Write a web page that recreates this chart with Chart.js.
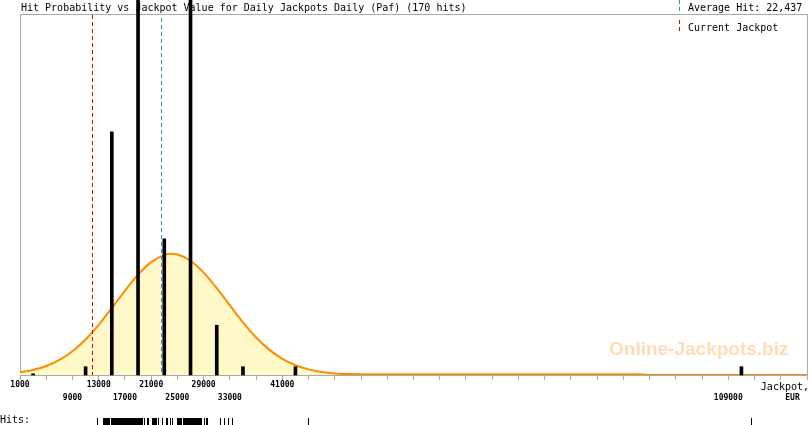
<!DOCTYPE html>
<html><head><meta charset="utf-8">
<script src="https://cdn.jsdelivr.net/npm/chart.js@4.4.0/dist/chart.umd.min.js"></script>
<style>html,body{margin:0;padding:0;background:#fff}canvas{display:block}</style>
</head><body>
<canvas id="c" width="810" height="425"></canvas>
<script>
const titleText = 'Hit Probability vs Jackpot Value for Daily Jackpots Daily (Paf) (170 hits)';
// histogram bins (EUR, bin centre) and heights (hits)
const binCenters = [3000, 11000, 15000, 19000, 23000, 27000, 31000, 35000, 43000, 111000];
const binHits    = [0.15, 1, 29.3, 57, 16.4, 57, 6, 1, 1, 1];
// fitted distribution curve (same units as bins)
const curveX = [1000,3000,5000,7000,9000,11000,13000,15000,17000,19000,21000,23000,24000,25000,27000,29000,31000,33000,35000,37000,39000,41000,43000,45000,47000,49000,51000,53000,57000,65000,75000,85000,95000,97000,109000,121000];
const curveY = [0.33,0.61,1.08,1.82,2.87,4.28,6.04,8.07,10.15,12.09,13.6,14.45,14.6,14.51,13.77,12.34,10.46,8.38,6.34,4.52,3.06,1.95,1.18,0.68,0.36,0.19,0.12,0.1,0.1,0.1,0.1,0.1,0.1,0,0,0];
// individual hit values (EUR) for the strip at the bottom
const hitValues = [12770,13690,13840,13990,14140,14300,14450,14600,14910,15060,15210,15370,15520,15670,15830,15980,16130,16290,16440,16590,16740,16900,17050,17200,17350,17510,17660,17810,17970,18120,18270,18430,18580,18730,18880,19040,19190,19340,19500,19650,19950,20360,20560,21180,21330,21480,21630,21790,22090,22700,23320,23470,23930,24230,24990,25150,25300,25460,25610,25910,26070,26220,26370,26530,26680,26830,26990,27140,27290,27440,27600,27750,27900,28060,28210,28360,28510,28670,29120,29430,29580,31570,32180,32790,33250,44870,112430];
const averageHit = 22437;
const currentJackpot = 12050;
const tickRow1 = [1000, 13000, 21000, 29000, 41000];
const tickRow2 = [9000, 17000, 25000, 33000, 109000];
const xMin = 1000, xMax = 121000, xStep = 4000;
const yMax = 43.5;

const RED = '#dd0000', BLUE = '#3a8cc0', GRAY = '#aaaaaa';
const MONO = '"DejaVu Sans Mono", "Liberation Mono", monospace';

function vline(ctx, x, y0, y1) { ctx.beginPath(); ctx.moveTo(x, y0); ctx.lineTo(x, y1); ctx.stroke(); }

const deco = {
  id: 'deco',
  beforeDraw(chart) {
    const ctx = chart.ctx, a = chart.chartArea;
    ctx.save();
    ctx.fillStyle = '#fff'; ctx.fillRect(0, 0, chart.width, chart.height);
    ctx.fillStyle = '#000'; ctx.font = '10px ' + MONO; ctx.textAlign = 'left'; ctx.textBaseline = 'alphabetic';
    ctx.fillText(titleText, 21, 10.5);
    ctx.fillText('Average Hit: ' + averageHit.toLocaleString('en-US'), 688, 10.5);
    ctx.fillText('Current Jackpot', 688, 30.5);
    ctx.lineWidth = 1; ctx.setLineDash([4, 3]);
    ctx.strokeStyle = BLUE; vline(ctx, 679.5, 0, 11);
    ctx.strokeStyle = RED; vline(ctx, 679.5, 20, 34);
    ctx.setLineDash([]);
    ctx.strokeStyle = GRAY;
    ctx.beginPath();
    ctx.moveTo(a.left + 0.5, a.bottom); ctx.lineTo(a.left + 0.5, a.top + 0.5);
    ctx.lineTo(a.right + 0.5, a.top + 0.5); ctx.lineTo(a.right + 0.5, a.bottom);
    ctx.stroke();
    ctx.font = 'bold 19px "Liberation Sans", Arial, sans-serif';
    ctx.fillStyle = '#ffdcb4';
    ctx.fillText('Online-Jackpots.biz', 609, 355);
    ctx.restore();
  },
  afterDatasetsDraw(chart) {
    const ctx = chart.ctx, a = chart.chartArea, xs = chart.scales.x;
    ctx.save();
    ctx.lineWidth = 1; ctx.setLineDash([4, 3]);
    ctx.strokeStyle = RED; vline(ctx, Math.round(xs.getPixelForValue(currentJackpot)) + 0.5, a.top + 1, a.bottom);
    ctx.strokeStyle = BLUE; vline(ctx, Math.round(xs.getPixelForValue(averageHit)) + 0.5, a.top + 4, a.bottom);
    ctx.restore();
  },
  afterDraw(chart) {
    const ctx = chart.ctx, xs = chart.scales.x;
    ctx.save();
    ctx.fillStyle = '#000'; ctx.font = '10px ' + MONO; ctx.textBaseline = 'alphabetic';
    ctx.textAlign = 'right'; ctx.fillText('Jackpot,', 809, 389.5);
    ctx.textAlign = 'left'; ctx.fillText('Hits:', 0, 423);
    ctx.font = 'bold 8px ' + MONO; ctx.textAlign = 'center'; ctx.textBaseline = 'middle';
    ctx.fillText('EUR', 792.5, 397.5);
    hitValues.forEach(v => { ctx.fillRect(Math.round(xs.getPixelForValue(v)), 418, 1, 7); });
    ctx.restore();
  }
};

new Chart(document.getElementById('c'), {
  type: 'bar',
  data: {
    datasets: [
      {
        type: 'bar',
        data: binCenters.map((x, i) => ({ x, y: binHits[i] })),
        backgroundColor: '#000',
        barThickness: 3,
        order: 1,
        clip: false
      },
      {
        type: 'line',
        data: curveX.map((x, i) => ({ x, y: curveY[i] })),
        borderColor: '#ff8c00',
        borderWidth: 2,
        backgroundColor: 'rgb(255,248,200)',
        fill: 'origin',
        pointRadius: 0,
        cubicInterpolationMode: 'monotone',
        order: 2
      }
    ]
  },
  options: {
    responsive: false,
    animation: false,
    devicePixelRatio: 1,
    events: [],
    layout: { padding: { left: 20, right: 3, top: 14, bottom: 0 } },
    plugins: { legend: { display: false }, tooltip: { enabled: false }, title: { display: false } },
    scales: {
      x: {
        type: 'linear', min: xMin, max: xMax, offset: false,
        afterFit: s => { s.height = 50; },
        ticks: {
          stepSize: xStep, autoSkip: false, maxRotation: 0, minRotation: 0, maxTicksLimit: 100,
          padding: -1, color: '#000',
          font: { family: MONO, size: 8, weight: 'bold', lineHeight: 1.55 },
          callback: v => tickRow1.includes(v) ? String(v) : (tickRow2.includes(v) ? ['', String(v)] : '')
        },
        grid: { drawOnChartArea: false, drawTicks: true, tickLength: 5, color: GRAY, offset: false },
        border: { color: GRAY }
      },
      y: { display: false, min: 0, max: yMax }
    }
  },
  plugins: [deco]
});
</script>
</body></html>
